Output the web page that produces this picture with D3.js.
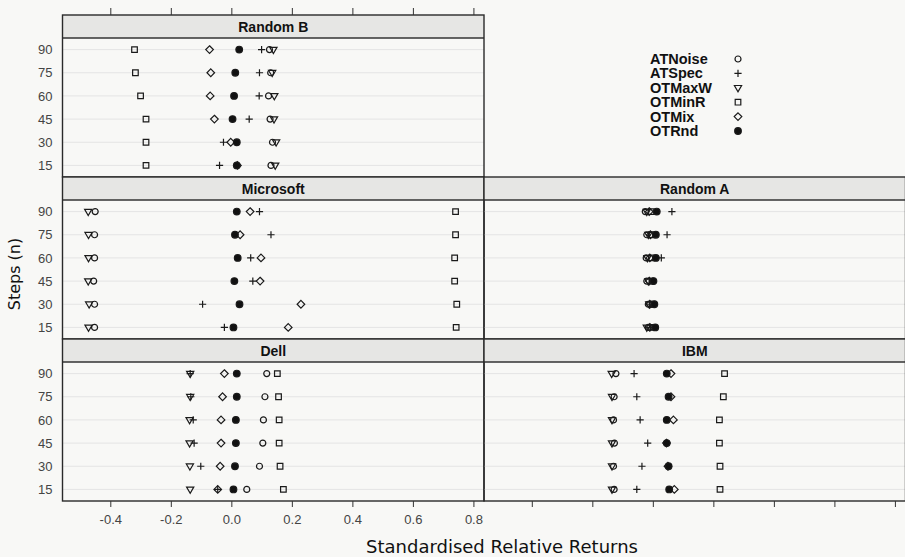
<!DOCTYPE html>
<html>
<head>
<meta charset="utf-8">
<script src="https://cdn.jsdelivr.net/npm/d3@7"></script>
<style>
  body { margin: 0; background: #f8f8f6; }
</style>
</head>
<body>
<div id="chart"></div>
<script>
// row levels (bottom to top) and the six methods, in lattice group order
const steps = ['15', '30', '45', '60', '75', '90'];
const methods = ['ATNoise', 'ATSpec', 'OTMaxW', 'OTMinR', 'OTMix', 'OTRnd'];
const xTicks = [-0.4, -0.2, 0.0, 0.2, 0.4, 0.6, 0.8];

// one array per panel: each inner array is a method, values for steps 15..90
const randomB = [
  [0.131, 0.136, 0.128, 0.123, 0.130, 0.126],
  [-0.039, -0.026, 0.059, 0.092, 0.093, 0.100],
  [0.145, 0.148, 0.141, 0.142, 0.135, 0.139],
  [-0.282, -0.282, -0.282, -0.300, -0.317, -0.320],
  [0.020, -0.002, -0.056, -0.070, -0.068, -0.072],
  [0.018, 0.018, 0.004, 0.009, 0.013, 0.026]
];
const microsoft = [
  [-0.452, -0.452, -0.455, -0.452, -0.452, -0.450],
  [-0.023, -0.095, 0.071, 0.064, 0.131, 0.093],
  [-0.472, -0.470, -0.473, -0.472, -0.472, -0.473],
  [0.743, 0.745, 0.738, 0.738, 0.741, 0.741],
  [0.188, 0.230, 0.095, 0.098, 0.029, 0.062],
  [0.007, 0.027, 0.010, 0.021, 0.012, 0.018]
];
const randomA = [
  [-0.015, -0.015, -0.020, -0.022, -0.020, -0.025],
  [-0.008, -0.005, 0.000, 0.028, 0.047, 0.063],
  [-0.020, -0.012, -0.015, -0.018, -0.015, -0.020],
  [0.000, -0.002, -0.003, -0.005, -0.005, -0.005],
  [-0.010, -0.010, -0.012, -0.010, -0.008, -0.012],
  [0.008, 0.005, 0.002, 0.010, 0.010, 0.013]
];
const dell = [
  [0.051, 0.093, 0.104, 0.106, 0.111, 0.117],
  [-0.045, -0.101, -0.123, -0.126, -0.134, -0.136],
  [-0.136, -0.137, -0.138, -0.138, -0.136, -0.136],
  [0.172, 0.161, 0.158, 0.158, 0.156, 0.152],
  [-0.045, -0.037, -0.034, -0.034, -0.029, -0.023],
  [0.007, 0.012, 0.015, 0.015, 0.018, 0.018]
];
const ibm = [
  [-0.128, -0.130, -0.127, -0.130, -0.128, -0.122],
  [-0.053, -0.036, -0.017, -0.042, -0.053, -0.062],
  [-0.135, -0.135, -0.135, -0.135, -0.135, -0.136],
  [0.222, 0.222, 0.220, 0.220, 0.233, 0.237],
  [0.071, 0.050, 0.045, 0.068, 0.060, 0.060],
  [0.054, 0.052, 0.046, 0.046, 0.052, 0.046]
];

const panelNames = ['Random B', 'Microsoft', 'Random A', 'Dell', 'IBM'];
const panelData = [randomB, microsoft, randomA, dell, ibm];
const panelCol = [0, 0, 1, 0, 1];
const panelRow = [0, 1, 1, 2, 2];

const width = 905;
const height = 557;
const padLeft = 62.5, colW = 421.5, padTop = 15, rowH = 162, stripH = 23;

const svg = d3.select('#chart')
  .append('svg')
  .attr('width', width)
  .attr('height', height)
  .style('font-family', 'Liberation Sans, Arial, sans-serif');

svg.append('rect').attr('width', width).attr('height', height).attr('fill', '#f8f8f6');

const x = d3.scaleLinear().domain([-0.558, 0.835]).range([0, colW]);
const y = d3.scalePoint().domain(steps.slice().reverse()).range([stripH, rowH]).padding(0.5);

// symbol paths, roughly R pch 1, 3, 6, 0, 5, 16
const shapes = {
  ATNoise: d3.symbol(d3.symbolCircle, Math.PI * 9)(),
  ATSpec: 'M-3.6,0H3.6M0,-3.6V3.6',
  OTMaxW: 'M-3.6,-2.3L3.6,-2.3L0,3.9Z',
  OTMinR: 'M-2.8,-2.8H2.8V2.8H-2.8Z',
  OTMix: 'M0,-3.8L3.8,0L0,3.8L-3.8,0Z',
  OTRnd: d3.symbol(d3.symbolCircle, Math.PI * 11)()
};

panelNames.forEach((name, i) => {
  const px = padLeft + panelCol[i] * colW;
  const py = padTop + panelRow[i] * rowH;
  const g = svg.append('g').attr('transform', `translate(${px},${py})`);

  // strip
  g.append('rect')
    .attr('width', colW).attr('height', stripH)
    .attr('fill', '#e6e6e4');
  g.append('line')
    .attr('x1', 0).attr('x2', colW).attr('y1', stripH).attr('y2', stripH)
    .attr('stroke', '#333').attr('stroke-width', 1.4);
  g.append('text')
    .attr('x', colW / 2).attr('y', stripH / 2 + 5)
    .attr('text-anchor', 'middle')
    .attr('font-size', 14).attr('font-weight', 'bold')
    .attr('fill', '#111')
    .text(name);

  // dotplot reference lines
  g.selectAll('.ref')
    .data(steps)
    .enter()
    .append('line')
    .attr('x1', 0).attr('x2', colW)
    .attr('y1', d => y(d)).attr('y2', d => y(d))
    .attr('stroke', '#e4e4e4').attr('stroke-width', 1);

  // points, one group per method
  methods.forEach((m, k) => {
    g.selectAll('.pt-' + m)
      .data(panelData[i][k])
      .enter()
      .append('path')
      .attr('d', shapes[m])
      .attr('transform', (d, j) => `translate(${x(d)},${y(steps[j])})`)
      .attr('fill', m === 'OTRnd' ? '#111' : 'none')
      .attr('stroke', '#1a1a1a')
      .attr('stroke-width', 1.2);
  });

  // panel border
  g.append('rect')
    .attr('width', colW).attr('height', rowH)
    .attr('fill', 'none')
    .attr('stroke', '#2a2a2a').attr('stroke-width', 1.4);

  // y labels only on the left column
  if (panelCol[i] === 0) {
    const ya = g.append('g').call(d3.axisLeft(y).tickSize(0).tickPadding(10));
    ya.select('.domain').remove();
    ya.selectAll('text')
      .attr('font-size', 13).attr('fill', '#444')
      .attr('font-family', 'Liberation Sans, Arial, sans-serif');
  }

  // top ticks on the top panel of the left column
  if (panelRow[i] === 0) {
    const ta = g.append('g').call(d3.axisTop(x).tickValues(xTicks).tickSize(7).tickFormat(''));
    ta.select('.domain').remove();
    ta.selectAll('line').attr('stroke', '#333');
  }

  // bottom ticks on the bottom row, labels on the left column only
  if (panelRow[i] === 2) {
    const ba = g.append('g')
      .attr('transform', `translate(0,${rowH})`)
      .call(d3.axisBottom(x).tickValues(xTicks).tickSize(6).tickPadding(8)
        .tickFormat(d => panelCol[i] === 0 ? d.toFixed(1) : ''));
    ba.select('.domain').remove();
    ba.selectAll('line').attr('stroke', '#333');
    ba.selectAll('text')
      .attr('font-size', 13).attr('fill', '#444')
      .attr('font-family', 'Liberation Sans, Arial, sans-serif');
  }
});

// legend
const legend = svg.append('g').attr('transform', 'translate(650,59)');
methods.forEach((m, k) => {
  legend.append('text')
    .attr('x', 0).attr('y', k * 14.4 + 5)
    .attr('font-size', 14.5).attr('font-weight', 'bold')
    .attr('fill', '#111')
    .text(m);
  legend.append('path')
    .attr('d', shapes[m])
    .attr('transform', `translate(88,${k * 14.4})`)
    .attr('fill', m === 'OTRnd' ? '#111' : 'none')
    .attr('stroke', '#1a1a1a')
    .attr('stroke-width', 1.2);
});

// axis titles
svg.append('text')
  .attr('x', 502).attr('y', 553)
  .attr('text-anchor', 'middle')
  .attr('font-family', 'DejaVu Sans, sans-serif')
  .attr('font-size', 18)
  .attr('fill', '#111')
  .text('Standardised Relative Returns');

svg.append('text')
  .attr('transform', 'translate(20,274) rotate(-90)')
  .attr('text-anchor', 'middle')
  .attr('font-family', 'DejaVu Sans, sans-serif')
  .attr('font-size', 16)
  .attr('fill', '#111')
  .text('Steps (n)');
</script>
</body>
</html>
